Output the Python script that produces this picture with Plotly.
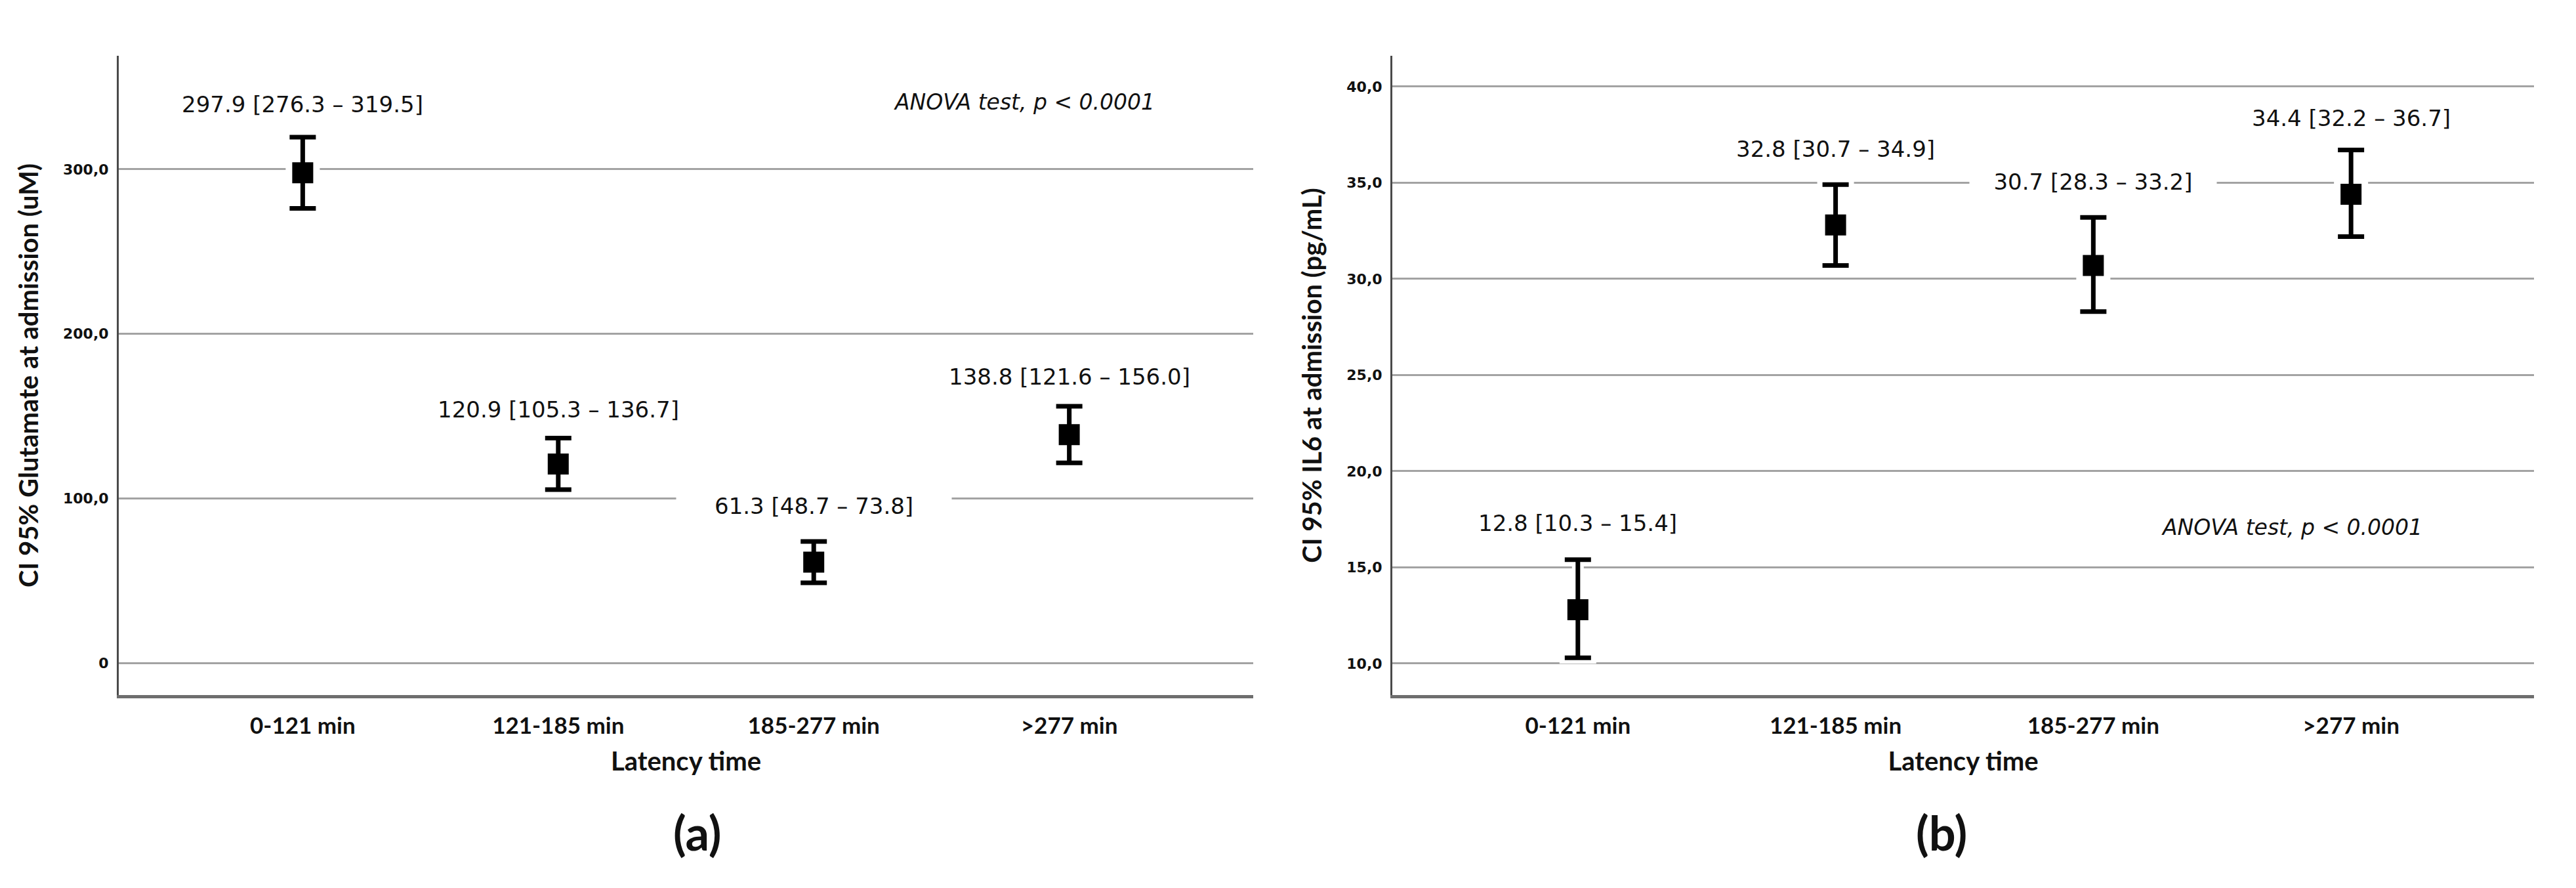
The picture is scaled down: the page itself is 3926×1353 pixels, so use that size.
import plotly.graph_objects as go

# ---------------------------------------------------------------------------
# Data
# ---------------------------------------------------------------------------

categories = ["0-121 min", "121-185 min", "185-277 min", ">277 min"]

glu_mean = [297.9, 120.9, 61.3, 138.8]
glu_low = [276.3, 105.3, 48.7, 121.6]
glu_high = [319.5, 136.7, 73.8, 156.0]

il6_mean = [12.8, 32.8, 30.7, 34.4]
il6_low = [10.3, 30.7, 28.3, 32.2]
il6_high = [15.4, 34.9, 33.2, 36.7]

glu_tickvals = [0, 100, 200, 300]
glu_ticktext = ["0", "100,0", "200,0", "300,0"]
il6_tickvals = [10, 15, 20, 25, 30, 35, 40]
il6_ticktext = ["10,0", "15,0", "20,0", "25,0", "30,0", "35,0", "40,0"]

# where the value labels sit (layout, not data)
glu_label_y = [339.4, 154.0, 95.3, 173.9]
il6_label_y = [17.3, 36.76, 35.05, 38.36]
# extra white padding (in spaces) for labels that sit on a gridline
glu_label_pad = [0, 0, 5, 0]
il6_label_pad = [0, 0, 3, 0]

# ---------------------------------------------------------------------------
# Styling
# ---------------------------------------------------------------------------

W, H = 3926, 1353
BODY = 8  # default page margin around the plot div
FW, FH = W - 2 * BODY, H - 2 * BODY


def px(x):
    return (x - BODY) / FW


def py(y):
    return 1 - (y - BODY) / FH


VERDANA = "DejaVu Sans, Verdana, sans-serif"
CALIBRI = "Lato, Carlito, sans-serif"
LABEL_FONT = dict(family=VERDANA, size=34, color="#111111")
TICK_FONT = dict(family=VERDANA, size=22, color="#111111", weight="bold")
CAT_FONT = dict(family=CALIBRI, size=35, color="#111111", weight="bold")
TITLE_FONT = dict(family=CALIBRI, size=40, color="#111111", weight="bold")
GRID = "#a3a3a3"

fig = go.Figure()


def add_panel(mean, low, high, xa, ya):
    plus = [h - m for h, m in zip(high, mean)]
    minus = [m - l for m, l in zip(mean, low)]
    # white halo so gridlines break around the marks
    fig.add_trace(go.Scatter(
        x=categories, y=mean, mode="markers", xaxis=xa, yaxis=ya,
        marker=dict(symbol="square", size=52, color="white"),
        error_y=dict(type="data", symmetric=False, array=plus, arrayminus=minus,
                     color="white", thickness=18, width=28),
        showlegend=False, hoverinfo="skip",
    ))
    fig.add_trace(go.Scatter(
        x=categories, y=mean, mode="markers", xaxis=xa, yaxis=ya,
        marker=dict(symbol="square", size=32, color="black"),
        error_y=dict(type="data", symmetric=False, array=plus, arrayminus=minus,
                     color="black", thickness=7, width=20),
        showlegend=False,
    ))


add_panel(glu_mean, glu_low, glu_high, "x", "y")
add_panel(il6_mean, il6_low, il6_high, "x2", "y2")


def value_labels(mean, low, high, label_y, pads, xref, yref):
    out = []
    for c, m, l, h, ly, p in zip(categories, mean, low, high, label_y, pads):
        sp = "&nbsp;" * p
        out.append(dict(
            x=c, y=ly, xref=xref, yref=yref,
            text=f"{sp}{m:.1f} [{l:.1f} – {h:.1f}]{sp}",
            showarrow=False, font=LABEL_FONT, bgcolor="white" if p else None,
            borderpad=4,
        ))
    return out


annotations = value_labels(glu_mean, glu_low, glu_high, glu_label_y, glu_label_pad, "x", "y")
annotations += value_labels(il6_mean, il6_low, il6_high, il6_label_y, il6_label_pad, "x2", "y2")

anova_font = dict(family=VERDANA, size=33, color="#111111", style="italic")
panel_font = dict(family=CALIBRI, size=72, color="#111111", weight="bold")
annotations += [
    dict(x=px(1762), y=py(155), xref="paper", yref="paper", xanchor="right", yanchor="middle",
         text="ANOVA test, p < 0.0001", showarrow=False, font=anova_font),
    dict(x=px(3694), y=py(803), xref="paper", yref="paper", xanchor="right", yanchor="middle",
         text="ANOVA test, p < 0.0001", showarrow=False, font=anova_font),
    dict(x=px(1024), y=py(1268), xref="paper", yref="paper", yanchor="middle",
         text="(a)", showarrow=False, font=panel_font),
    dict(x=px(3000), y=py(1268), xref="paper", yref="paper", yanchor="middle",
         text="(b)", showarrow=False, font=panel_font),
]

y_dom = [py(1059), py(85)]

xaxis_common = dict(
    type="category", categoryorder="array", categoryarray=categories,
    showgrid=False, zeroline=False,
    showline=True, linecolor="#6e6e6e", linewidth=5,
    ticks="", tickfont=CAT_FONT, ticklabelstandoff=12,
    title=dict(text="Latency time", font=TITLE_FONT, standoff=23),
)
yaxis_common = dict(
    showgrid=True, gridcolor=GRID, gridwidth=3, zeroline=False,
    showline=True, linecolor="#4a4a4a", linewidth=3,
    ticks="", tickfont=TICK_FONT, ticklabelstandoff=8,
)

fig.update_layout(
    width=FW, height=FH,
    margin=dict(l=0, r=0, t=0, b=0),
    paper_bgcolor="white", plot_bgcolor="white",
    xaxis=dict(domain=[px(181), px(1910)], anchor="y", range=[-0.72, 3.72], **xaxis_common),
    xaxis2=dict(domain=[px(2122), px(3862)], anchor="y2", range=[-0.72, 3.71], **xaxis_common),
    yaxis=dict(domain=y_dom, anchor="x", range=[-19.5, 369],
               tickvals=glu_tickvals, ticktext=glu_ticktext,
               title=dict(text="CI 95% Glutamate at admission (uM)", font=TITLE_FONT, standoff=26),
               **yaxis_common),
    yaxis2=dict(domain=y_dom, anchor="x2", range=[8.36, 41.6],
                tickvals=il6_tickvals, ticktext=il6_ticktext,
                title=dict(text="CI 95% IL6 at admission (pg/mL)", font=TITLE_FONT, standoff=26),
                **yaxis_common),
    annotations=annotations,
    showlegend=False,
)

fig.write_html("out.html")
